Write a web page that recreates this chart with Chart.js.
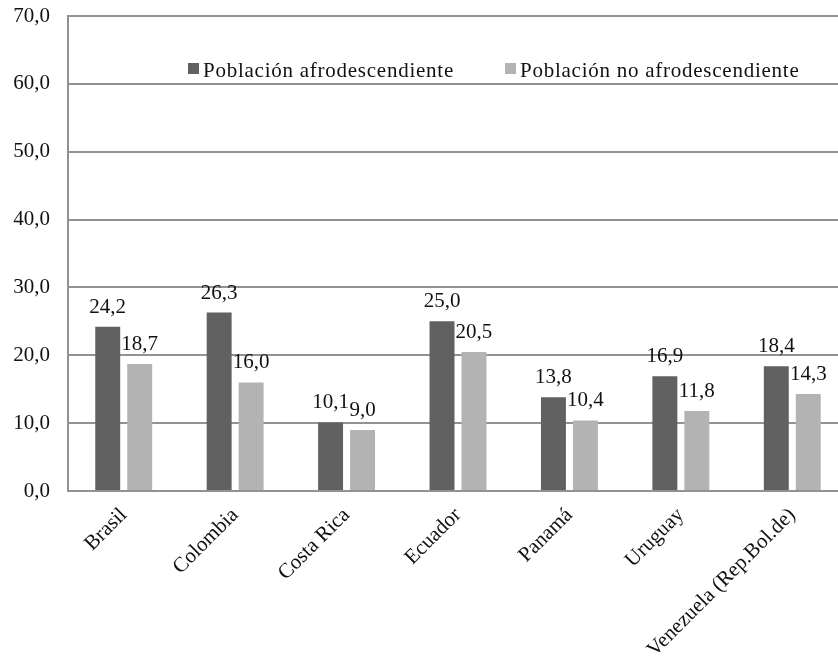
<!DOCTYPE html>
<html>
<head>
<meta charset="utf-8">
<script src="https://cdn.jsdelivr.net/npm/chart.js@4/dist/chart.umd.min.js"></script>
<style>
    html, body { margin: 0; padding: 0; background: #fff; overflow: hidden; }
    #chart { display: block; }
</style>
</head>
<body>
<canvas id="chart" width="848" height="664"></canvas>
<script>
const categories = ['Brasil', 'Colombia', 'Costa Rica', 'Ecuador', 'Panamá', 'Uruguay', 'Venezuela (Rep.Bol.de)'];
const seriesNames = ['Población afrodescendiente', 'Población no afrodescendiente'];
const afroValues = [24.2, 26.3, 10.1, 25.0, 13.8, 16.9, 18.4];
const noAfroValues = [18.7, 16.0, 9.0, 20.5, 10.4, 11.8, 14.3];
const yMin = 0;
const yMax = 70;
const yStep = 10;

const darkGray = '#616161';
const lightGray = '#b3b3b3';
const gridColor = '#929292';
const FONT = '"Liberation Serif", "Times New Roman", serif';

function comma(v) {
    return Number(v).toFixed(1).replace('.', ',');
}

// value labels above each bar
const valueLabels = {
    id: 'valueLabels',
    afterDatasetsDraw(chart) {
        const ctx = chart.ctx;
        ctx.save();
        ctx.font = '21px ' + FONT;
        ctx.fillStyle = '#111';
        ctx.textAlign = 'center';
        ctx.textBaseline = 'alphabetic';
        chart.data.datasets.forEach((ds, i) => {
            chart.getDatasetMeta(i).data.forEach((bar, j) => {
                ctx.fillText(comma(ds.data[j]), bar.x, bar.y - 14);
            });
        });
        ctx.restore();
    },
};

// legend drawn inside the plot, like the original
const insideLegend = {
    id: 'insideLegend',
    afterDraw(chart) {
        const ctx = chart.ctx;
        const spots = [188, 505];
        ctx.save();
        ctx.font = '21px ' + FONT;
        ctx.letterSpacing = '0.75px';
        ctx.textBaseline = 'alphabetic';
        ctx.textAlign = 'left';
        chart.data.datasets.forEach((ds, i) => {
            const x = spots[i];
            ctx.fillStyle = ds.backgroundColor;
            ctx.fillRect(x, 63, 11, 11);
            ctx.fillStyle = '#111';
            ctx.fillText(ds.label, x + 15, 77);
        });
        ctx.restore();
    },
};

const ctx = document.getElementById('chart').getContext('2d');

new Chart(ctx, {
    type: 'bar',
    data: {
        labels: categories,
        datasets: [
            {
                label: seriesNames[0],
                data: afroValues,
                backgroundColor: darkGray,
                categoryPercentage: 0.574,
                barPercentage: 0.78,
            },
            {
                label: seriesNames[1],
                data: noAfroValues,
                backgroundColor: lightGray,
                categoryPercentage: 0.574,
                barPercentage: 0.78,
            },
        ],
    },
    options: {
        responsive: false,
        animation: false,
        layout: { padding: { top: 16, right: 0, left: 0, bottom: 0 } },
        plugins: {
            legend: { display: false },
            tooltip: { enabled: false },
        },
        scales: {
            x: {
                grid: { display: false, drawTicks: false },
                border: { display: true, color: gridColor, width: 2 },
                ticks: {
                    color: '#111',
                    font: { family: FONT, size: 21 },
                    maxRotation: 45,
                    minRotation: 45,
                    padding: 12,
                    autoSkip: false,
                },
                afterFit(scale) {
                    scale.height = 173;
                },
            },
            y: {
                min: yMin,
                max: yMax,
                grid: { color: gridColor, lineWidth: 2, drawTicks: false },
                border: { display: true, color: gridColor, width: 2 },
                ticks: {
                    stepSize: yStep,
                    color: '#111',
                    font: { family: FONT, size: 21 },
                    padding: 18,
                    callback: v => comma(v),
                },
                afterFit(scale) {
                    scale.width = 68;
                    // the tick padding would otherwise push the plot top down
                    scale.paddingTop = 0;
                    scale.paddingBottom = 0;
                },
            },
        },
    },
    plugins: [valueLabels, insideLegend],
});
</script>
</body>
</html>
